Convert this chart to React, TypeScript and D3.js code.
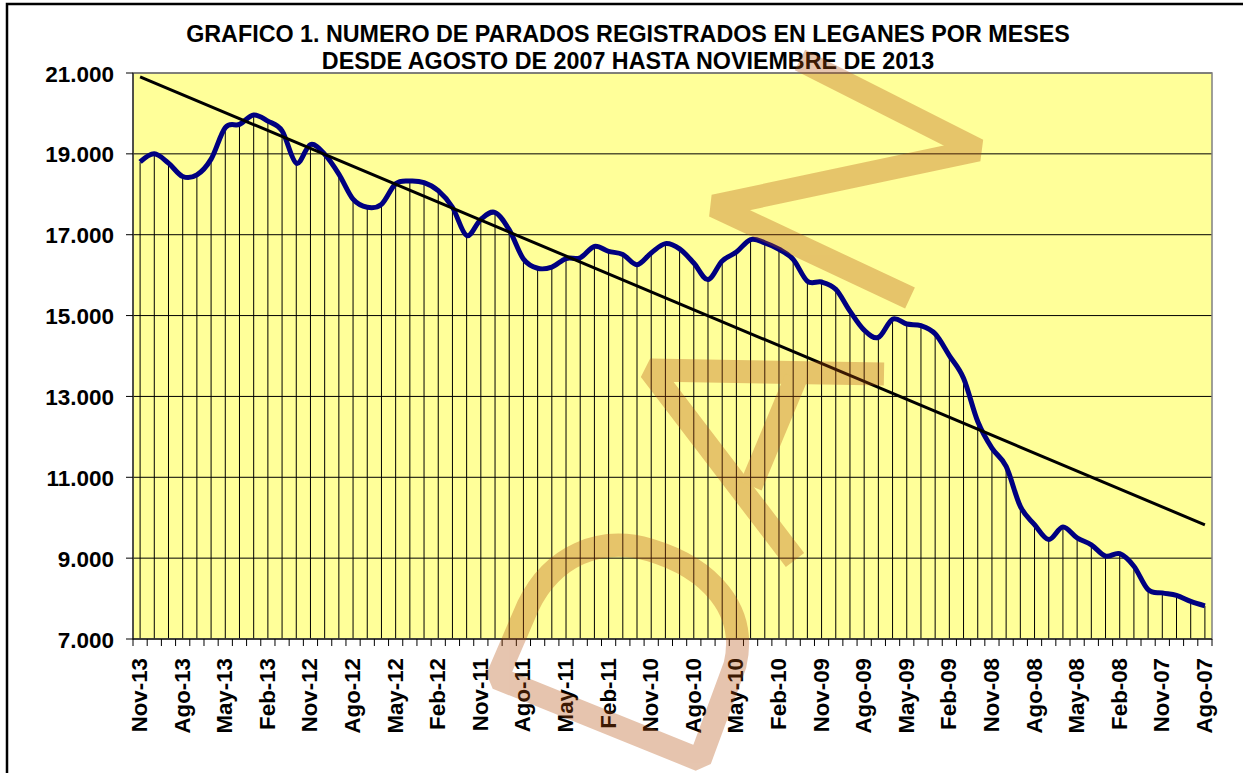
import React from "react";
import * as d3 from "d3";

const TITLE_LINES = [
  "GRAFICO 1. NUMERO DE PARADOS REGISTRADOS EN LEGANES POR MESES",
  "DESDE AGOSTO DE 2007 HASTA NOVIEMBRE DE 2013",
];

const MONTHS = [
  "Nov-13", "Oct-13", "Sep-13", "Ago-13", "Jul-13", "Jun-13", "May-13", "Abr-13", "Mar-13", "Feb-13", "Ene-13",
  "Dic-12", "Nov-12", "Oct-12", "Sep-12", "Ago-12", "Jul-12", "Jun-12", "May-12", "Abr-12", "Mar-12", "Feb-12", "Ene-12",
  "Dic-11", "Nov-11", "Oct-11", "Sep-11", "Ago-11", "Jul-11", "Jun-11", "May-11", "Abr-11", "Mar-11", "Feb-11", "Ene-11",
  "Dic-10", "Nov-10", "Oct-10", "Sep-10", "Ago-10", "Jul-10", "Jun-10", "May-10", "Abr-10", "Mar-10", "Feb-10", "Ene-10",
  "Dic-09", "Nov-09", "Oct-09", "Sep-09", "Ago-09", "Jul-09", "Jun-09", "May-09", "Abr-09", "Mar-09", "Feb-09", "Ene-09",
  "Dic-08", "Nov-08", "Oct-08", "Sep-08", "Ago-08", "Jul-08", "Jun-08", "May-08", "Abr-08", "Mar-08", "Feb-08", "Ene-08",
  "Dic-07", "Nov-07", "Oct-07", "Sep-07", "Ago-07",
];

const PARADOS = [
  18800, 19000, 18770, 18440, 18480, 18870, 19650, 19730, 19960, 19810, 19570,
  18770, 19230, 18990, 18500, 17880, 17680, 17750, 18260, 18330, 18290, 18090, 17680,
  16980, 17380, 17550, 17120, 16400, 16170, 16200, 16410, 16430, 16710, 16590, 16510,
  16260, 16550, 16780, 16650, 16300, 15890, 16350, 16570, 16880, 16800, 16640, 16390,
  15850, 15830, 15650, 15110, 14640, 14460, 14910, 14790, 14750, 14550, 14010, 13450,
  12380, 11720, 11270, 10280, 9830, 9460, 9770, 9500, 9330, 9050, 9110, 8800,
  8220, 8140, 8080, 7930, 7820,
];

const Y_TICKS = [7000, 9000, 11000, 13000, 15000, 17000, 19000, 21000];
const LABEL_EVERY = 3;

// decorative watermark strokes (not data)
const WATERMARK = [
  "M497,678 L700,760 L735,665 C748,610 710,568 650,550 C600,535 552,556 528,606 Z",
  "M884,374 L650,370 L795,560",
  "M796,378 L751,486",
  "M800,60 L978,150 L714,206 L910,298",
];

const FONT = "'Liberation Sans', Arial, sans-serif";

export default function App() {
  const W = 1243, H = 773;
  const L = 133, R = 1212, T = 73, B = 639;

  const x = d3.scaleBand<string>().domain(MONTHS).range([L, R]).padding(0);
  const bw = x.bandwidth();
  const cx = (m: string) => (x(m) as number) + bw / 2;
  const y = d3.scaleLinear().domain([7000, 21000]).range([B, T]);

  const pts: [number, number][] = MONTHS.map((m, i) => [cx(m), y(PARADOS[i])]);
  const line = d3.line().curve(d3.curveCardinal.tension(0))(pts) || "";

  // linear trend line (least squares on index)
  const n = PARADOS.length;
  const idx = d3.range(n);
  const mx = d3.mean(idx) as number;
  const my = d3.mean(PARADOS) as number;
  const sxy = d3.sum(idx, (i) => (i - mx) * (PARADOS[i] - my));
  const sxx = d3.sum(idx, (i) => (i - mx) * (i - mx));
  const slope = sxy / sxx;
  const icpt = my - slope * mx;
  const t0 = icpt, t1 = icpt + slope * (n - 1);

  const boundaries = d3.range(MONTHS.length + 1).map((k) => L + k * bw);

  return (
    <svg width={W} height={H} style={{ position: "absolute", left: 0, top: 0, background: "#fff" }}>
      <rect x={0} y={0} width={W} height={H} fill="#fff" />
      <rect x={7} y={4} width={1250} height={790} fill="none" stroke="#000" strokeWidth={2.5} />

      {TITLE_LINES.map((t, i) => (
        <text key={i} x={628} y={41.5 + i * 27} textAnchor="middle" fontFamily={FONT}
          fontWeight="bold" fontSize={23.3} fill="#000">{t}</text>
      ))}

      <rect x={L} y={T} width={R - L} height={B - T} fill="#FFFF99" />

      {Y_TICKS.map((v) => (
        <line key={"g" + v} x1={L} x2={R} y1={y(v)} y2={y(v)} stroke="#000" strokeWidth={1} />
      ))}

      {MONTHS.map((m, i) => (
        <line key={"d" + m} x1={cx(m)} x2={cx(m)} y1={y(PARADOS[i])} y2={B} stroke="#000" strokeWidth={1} />
      ))}

      <rect x={L} y={T} width={R - L} height={B - T} fill="none" stroke="#808080" strokeWidth={1.5} />
      <line x1={L} x2={L} y1={T} y2={B} stroke="#000" strokeWidth={1} />
      <line x1={L} x2={R} y1={B} y2={B} stroke="#000" strokeWidth={1} />

      {Y_TICKS.map((v) => (
        <g key={"yt" + v}>
          <line x1={L - 7} x2={L} y1={y(v)} y2={y(v)} stroke="#000" strokeWidth={1} />
          <text x={114} y={y(v) + 8.5} textAnchor="end" fontFamily={FONT} fontWeight="bold"
            fontSize={22.5} fill="#000">{d3.format(",")(v).replace(/,/g, ".")}</text>
        </g>
      ))}

      {boundaries.map((bx, k) => (
        <line key={"xt" + k} x1={bx} x2={bx} y1={B} y2={B + 7} stroke="#000" strokeWidth={1} />
      ))}

      {MONTHS.map((m, i) =>
        i % LABEL_EVERY === 0 ? (
          <text key={"xl" + m} transform={`translate(${cx(m) + 7},${658}) rotate(-90)`}
            textAnchor="end" fontFamily={FONT} fontWeight="bold" fontSize={22.3} fill="#000">{m}</text>
        ) : null
      )}

      <path d={line} fill="none" stroke="#000080" strokeWidth={5} strokeLinejoin="round" />

      <line x1={cx(MONTHS[0])} x2={cx(MONTHS[n - 1])} y1={y(t0)} y2={y(t1)} stroke="#000" strokeWidth={3} />

      <g opacity={0.33} fill="none" stroke="rgb(180,78,12)" strokeWidth={23} strokeLinejoin="bevel">
        {WATERMARK.map((d, i) => <path key={i} d={d} />)}
      </g>
    </svg>
  );
}
